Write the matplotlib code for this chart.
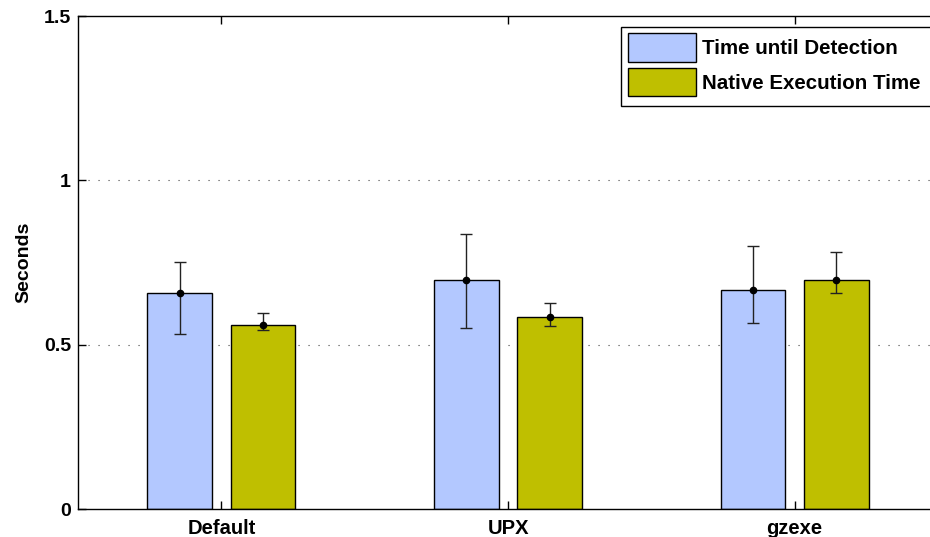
import numpy as np
import matplotlib
matplotlib.use('Agg')
import matplotlib.pyplot as plt
from matplotlib.patches import Rectangle
from matplotlib.legend_handler import HandlerPatch

# data
categories = ['Default', 'UPX', 'gzexe']
series_names = ['Time until Detection', 'Native Execution Time']

detect_mean = [0.657, 0.696, 0.665]
detect_low = [0.532, 0.551, 0.566]
detect_high = [0.751, 0.836, 0.801]

native_mean = [0.560, 0.585, 0.696]
native_low = [0.546, 0.556, 0.656]
native_high = [0.596, 0.626, 0.781]

yticks = [0, 0.5, 1, 1.5]
ytick_labels = ['0', '0.5', '1', '1.5']

plt.rcParams['font.family'] = ['Liberation Sans', 'DejaVu Sans']
plt.rcParams['font.weight'] = 'bold'

fig = plt.figure(figsize=(9.3, 5.37), dpi=100)
W, H = 930.0, 537.0
ax = fig.add_axes([78 / W, 1 - 509 / H, (938 - 78) / W, (509 - 16) / H])

x = np.arange(1, len(categories) + 1)
width = 0.226
offset = 0.145

series = [
    (detect_mean, detect_low, detect_high, '#b3c8ff', -offset),
    (native_mean, native_low, native_high, '#bfbf00', offset),
]
handles = []
for (mean, low, high, color, off), name in zip(series, series_names):
    mean = np.array(mean)
    yerr = [mean - np.array(low), np.array(high) - mean]
    b = ax.bar(x + off, mean, width, color=color, edgecolor='black',
               linewidth=1, label=name, zorder=2)
    handles.append(b)
    ax.errorbar(x + off, mean, yerr=yerr, fmt='o', color='black',
                ecolor='#222222', elinewidth=1, capsize=4.3, capthick=1,
                markersize=4.5, zorder=3)

ax.set_xlim(0.5, 3.5)
ax.set_ylim(0, 1.5)
ax.set_xticks(x)
ax.set_xticklabels(categories, fontsize=14.5, fontweight='bold')
ax.set_yticks(yticks)
ax.set_yticklabels(ytick_labels, fontsize=14, fontweight='bold')
ax.set_ylabel('Seconds', fontsize=14, fontweight='bold', labelpad=8.5)

for y in [0.5, 1.0]:
    ax.axhline(y, color='#444444', linewidth=0.8, linestyle=(0, (1, 8)), zorder=1)

ax.tick_params(direction='in', length=6, width=1, top=True, right=False)
ax.tick_params(axis='x', pad=7)
ax.tick_params(axis='y', pad=5)
ax.spines['right'].set_visible(False)
for s in ax.spines.values():
    s.set_linewidth(1)


# legend swatch with a small left margin, like the original
def swatch(legend, orig_handle, xdescent, ydescent, width, height, fontsize):
    m = 3.0
    return Rectangle((-xdescent + m, -ydescent), width - m, height)


# legend box runs past the right edge of the picture, so draw it by hand
fig.patches.append(Rectangle((621 / W, 1 - 106 / H), 340 / W, (106 - 26.7) / H,
                             transform=fig.transFigure, facecolor='white',
                             edgecolor='black', linewidth=1, zorder=4))

leg = fig.legend(handles, series_names, loc='upper left',
                 bbox_to_anchor=(621 / W, 1 - 26.7 / H),
                 prop={'weight': 'bold', 'size': 14.8},
                 handlelength=3.35, handleheight=1.75, labelspacing=0.3,
                 handletextpad=0.25, borderpad=0.32, borderaxespad=0,
                 frameon=False,
                 handler_map={type(handles[0].patches[0]): HandlerPatch(patch_func=swatch)})

fig.savefig('out.png', dpi=100)
